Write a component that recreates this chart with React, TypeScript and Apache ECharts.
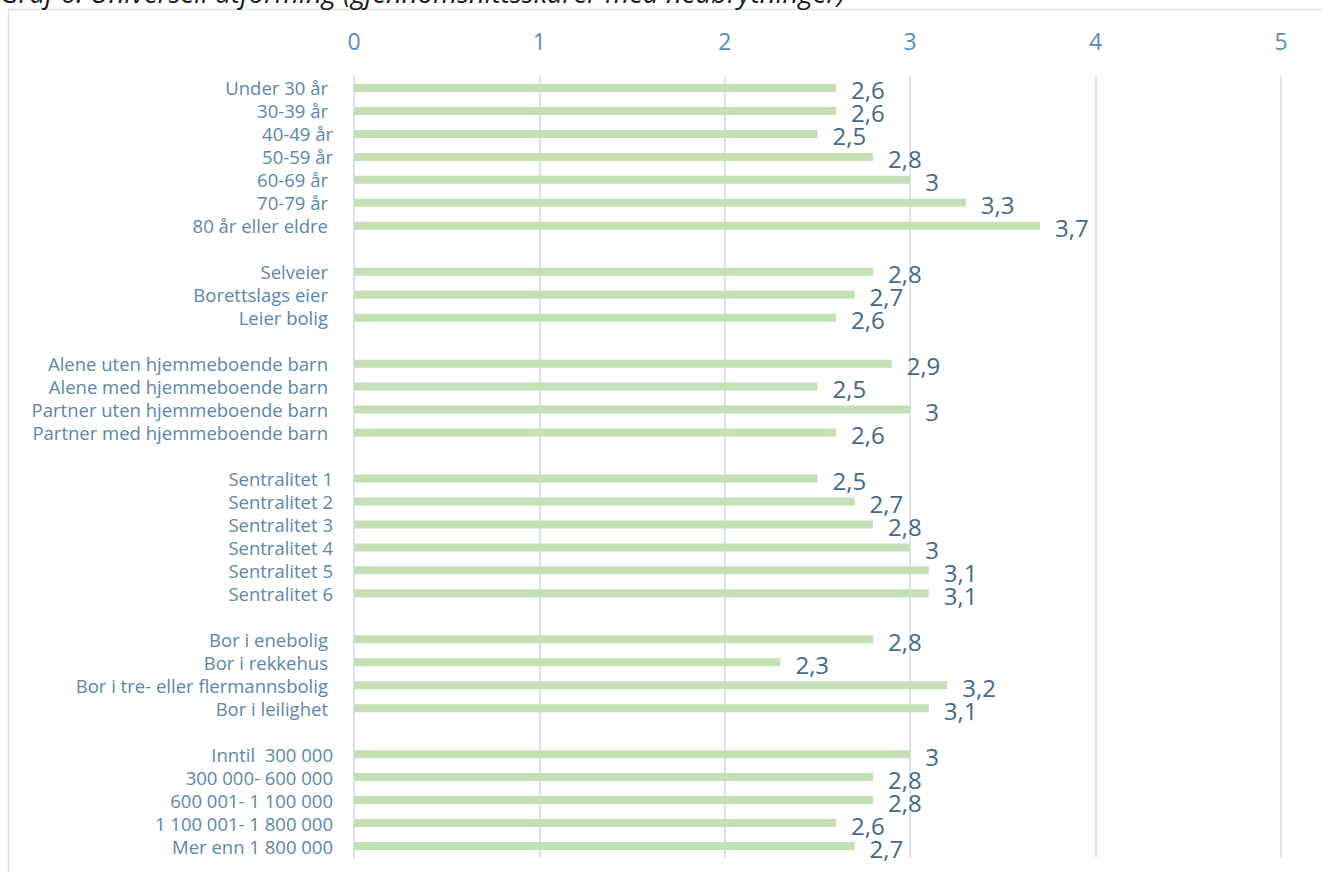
import React, { useEffect, useRef } from "react";
import * as echarts from "echarts";

const TITLE = "Graf 6: Universell utforming (gjennomsnittsskårer med nedbrytninger)";

// '' entries are the empty spacer rows between groups
const categories: string[] = [
  "Under 30 år ", "30-39 år ", "40-49 år", "50-59 år", "60-69 år ", "70-79 år ", "80 år eller eldre ",
  "",
  "Selveier ", "Borettslags eier ", "Leier bolig ",
  "",
  "Alene uten hjemmeboende barn ", "Alene med hjemmeboende barn ", "Partner uten hjemmeboende barn ", "Partner med hjemmeboende barn ",
  "",
  "Sentralitet 1", "Sentralitet 2", "Sentralitet 3", "Sentralitet 4", "Sentralitet 5", "Sentralitet 6",
  "",
  "Bor i enebolig ", "Bor i rekkehus ", "Bor i tre- eller flermannsbolig ", "Bor i leilighet ",
  "",
  "Inntil  300 000", "300 000- 600 000", "600 001- 1 100 000", "1 100 001- 1 800 000", "Mer enn 1 800 000",
];

const values: (number | null)[] = [
  2.6, 2.6, 2.5, 2.8, 3, 3.3, 3.7,
  null,
  2.8, 2.7, 2.6,
  null,
  2.9, 2.5, 3, 2.6,
  null,
  2.5, 2.7, 2.8, 3, 3.1, 3.1,
  null,
  2.8, 2.3, 3.2, 3.1,
  null,
  3, 2.8, 2.8, 2.6, 2.7,
];

const xTicks = { min: 0, max: 5, interval: 1 };

const FONT = "'Open Sans', 'Noto Sans', sans-serif";
const CAT_COLOR = "#5b86aa";
const CAT_SIZE = 18.5;

export default function App() {
  const ref = useRef<HTMLDivElement>(null);
  useEffect(() => {
    if (!ref.current) return;
    const chart = echarts.init(ref.current, undefined, { renderer: "svg" });
    chart.setOption({
      animation: false,
      backgroundColor: "#ffffff",
      graphic: [
        {
          type: "rect",
          shape: { x: 8.5, y: 9.5, width: 1330, height: 900 },
          style: { fill: "none", stroke: "#d9e2ec", lineWidth: 1.5 },
          silent: true,
        },
        {
          type: "text",
          x: 0,
          y: -7.5,
          style: {
            text: TITLE,
            font: `italic 27.5px ${FONT}`,
            fill: "#1a1a1a",
            verticalAlign: "middle",
          },
          silent: true,
        },
      ],
      grid: { left: 354, right: 41, top: 76.5, bottom: 14.5, containLabel: false },
      xAxis: {
        type: "value",
        position: "top",
        min: xTicks.min,
        max: xTicks.max,
        interval: xTicks.interval,
        axisLine: { show: false },
        axisTick: { show: false },
        axisLabel: {
          margin: 24,
          color: "#5d8db3",
          fontSize: 23,
          fontFamily: FONT,
        },
        splitLine: { show: true, lineStyle: { color: "#d8e3ee", width: 2 } },
      },
      yAxis: {
        type: "category",
        inverse: true,
        data: categories,
        axisLine: { show: true, lineStyle: { color: "#d8e3ee", width: 2 } },
        axisTick: { show: false },
        axisLabel: {
          margin: 21,
          interval: 0,
          color: CAT_COLOR,
          fontSize: CAT_SIZE,
          fontFamily: FONT,
          formatter: (name: string) =>
            name.endsWith(" ") ? `{p|${name.trim()}}` : name,
          rich: {
            p: { color: CAT_COLOR, fontSize: CAT_SIZE, fontFamily: FONT, padding: [0, 5, 0, 0] },
          },
        },
      },
      series: [
        {
          type: "bar",
          data: values,
          barWidth: 8,
          itemStyle: { color: "#c5e0b4" },
          label: {
            show: true,
            position: "right",
            distance: 5,
            offset: [10, 2],
            color: "#43688a",
            fontSize: 24,
            fontFamily: FONT,
            formatter: (p: any) => String(p.value).replace(".", ","),
          },
        },
      ],
    });
    return () => chart.dispose();
  }, []);
  return (
    <div
      ref={ref}
      style={{ position: "fixed", left: 0, top: 0, width: 1322, height: 872 }}
    />
  );
}
